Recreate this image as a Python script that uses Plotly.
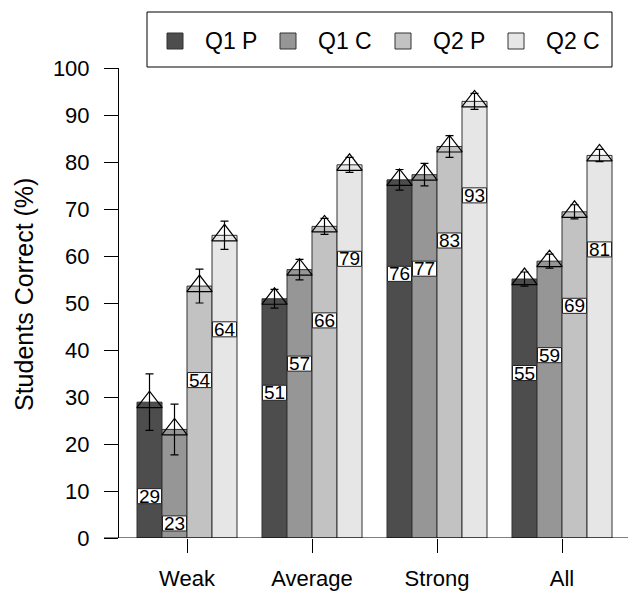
import plotly.graph_objects as go

categories = ["Weak", "Average", "Strong", "All"]
series_names = ["Q1 P", "Q1 C", "Q2 P", "Q2 C"]
q1p_values = [28.9, 50.9, 76.2, 55.1]
q1c_values = [23.1, 57.1, 77.3, 58.9]
q2p_values = [53.6, 66.3, 83.3, 69.4]
q2c_values = [64.4, 79.4, 92.9, 81.4]
q1p_err = [6.0, 2.0, 2.2, 1.5]
q1c_err = [5.4, 2.2, 2.4, 1.5]
q2p_err = [3.6, 1.7, 2.3, 1.5]
q2c_err = [3.0, 1.6, 1.7, 1.3]
q1p_labels = ["29", "51", "76", "55"]
q1c_labels = ["23", "57", "77", "59"]
q2p_labels = ["54", "66", "83", "69"]
q2c_labels = ["64", "79", "93", "81"]
y_ticks = [0, 10, 20, 30, 40, 50, 60, 70, 80, 90, 100]

values = [q1p_values, q1c_values, q2p_values, q2c_values]
errors = [q1p_err, q1c_err, q2p_err, q2c_err]
labels = [q1p_labels, q1c_labels, q2p_labels, q2c_labels]
colors = ["#4d4d4d", "#969696", "#c2c2c2", "#e6e6e6"]
FONT = "Liberation Sans, Arial, sans-serif"

# page body has an 8px margin; figure sized to fill the rest of the window
OX, OY = 8, 8
W, H = 636 - OX, 593 - OY
L, R, T, B = 119 - OX, 0, 68 - OY, 593 - 538
pw, ph = W - L - R, H - T - B


def px2x(px):
    return (px - OX - L) / pw


def py2y(py):
    return (H - B - (py - OY)) / ph


xpos = list(range(len(categories)))
offsets = [-0.3, -0.1, 0.1, 0.3]

fig = go.Figure()
for k in range(4):
    fig.add_trace(go.Bar(
        x=xpos, y=values[k], name=series_names[k],
        marker=dict(color=colors[k], line=dict(color="#333333", width=1)),
        showlegend=False,
    ))

for k in range(4):
    xs = [x + offsets[k] for x in xpos]
    fig.add_trace(go.Scatter(
        x=xs, y=values[k], mode="markers", showlegend=False,
        marker=dict(symbol="triangle-up-open", size=22, color="black",
                    line=dict(color="black", width=1.2)),
        error_y=dict(type="data", array=errors[k], visible=True,
                     color="black", thickness=1.2, width=4),
        hoverinfo="skip",
    ))

shapes = []
annotations = []
box_h = 3.2
for k in range(4):
    for i, x in enumerate(xpos):
        cx = x + offsets[k]
        cy = values[k][i] - 20
        shapes.append(dict(type="rect", xref="x", yref="y",
                           x0=cx - 0.096, x1=cx + 0.096,
                           y0=cy - box_h / 2, y1=cy + box_h / 2,
                           fillcolor="white", line=dict(color="#222222", width=1)))
        annotations.append(dict(x=cx, y=cy, xref="x", yref="y",
                                text=labels[k][i], showarrow=False,
                                font=dict(family=FONT, size=19, color="black"),
                                xanchor="center", yanchor="middle"))

# extended baseline
shapes.append(dict(type="line", xref="paper", yref="y",
                   x0=px2x(104), x1=1, y0=0, y1=0,
                   line=dict(color="black", width=1)))

# manual legend
shapes.append(dict(type="rect", xref="paper", yref="paper",
                   x0=px2x(147), x1=px2x(612), y0=py2y(67), y1=py2y(12),
                   fillcolor="white", line=dict(color="black", width=1)))
sw_left = [167, 280, 395, 508]
for k in range(4):
    shapes.append(dict(type="rect", xref="paper", yref="paper",
                       x0=px2x(sw_left[k]), x1=px2x(sw_left[k] + 16),
                       y0=py2y(49), y1=py2y(33),
                       fillcolor=colors[k], line=dict(color="#333333", width=1)))
    annotations.append(dict(x=px2x(sw_left[k] + 36), y=py2y(41),
                            xref="paper", yref="paper", text=series_names[k],
                            showarrow=False, xanchor="left", yanchor="middle",
                            font=dict(family=FONT, size=23, color="black")))

annotations.append(dict(x=px2x(24), y=py2y(295), xref="paper", yref="paper",
                        text="Students Correct (%)", textangle=-90,
                        showarrow=False, xanchor="center", yanchor="middle",
                        font=dict(family=FONT, size=25, color="black")))

fig.update_layout(
    width=W, height=H,
    margin=dict(l=L, r=R, t=T, b=B, pad=0),
    paper_bgcolor="white", plot_bgcolor="white",
    barmode="group", bargap=0.2, bargroupgap=0,
    font=dict(family=FONT, size=22, color="black"),
    shapes=shapes, annotations=annotations,
    showlegend=False,
    xaxis=dict(range=[(119 - 187) / 125, (636 - 187) / 125],
               tickvals=xpos, ticktext=categories,
               ticks="outside", ticklen=14, tickcolor="black", tickwidth=1,
               ticklabelstandoff=7,
               showgrid=False, zeroline=False, showline=False,
               tickfont=dict(family=FONT, size=22, color="black")),
    yaxis=dict(range=[0, 100], tickvals=y_ticks,
               ticks="outside", ticklen=14, tickcolor="black", tickwidth=1,
               ticklabelstandoff=10,
               showgrid=False, zeroline=False, showline=True,
               linecolor="black", linewidth=1,
               tickfont=dict(family=FONT, size=22, color="black")),
)

fig.write_html("out.html")
